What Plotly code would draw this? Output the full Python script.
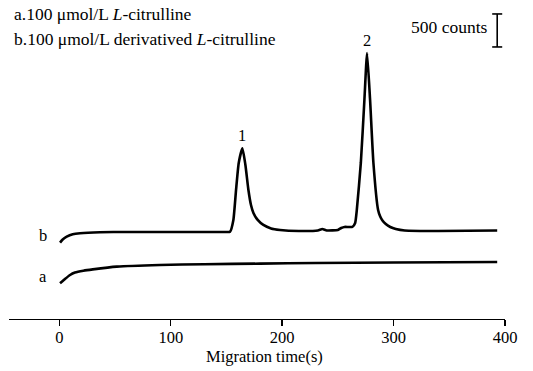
import plotly.graph_objects as go

# ---- data ----
time_a = [0.6, 3, 5, 9.6, 14, 21.5, 30, 51.5, 90, 130, 180, 230, 300, 393]
counts_a = [-323, -288, -258, -197, -160, -132, -112, -71, -45, -34, -25, -15, -8, 0]

time_b = [0.6, 3, 6.6, 12, 18.6, 36.5, 60, 100, 150, 153.2, 156.2, 158.6, 161, 164.3,
          167, 169.7, 172, 174.2, 178, 183.1, 190, 198.1, 215, 232, 236, 240, 250,
          253, 256, 263, 265.5, 267, 270.6, 273.8, 276.2, 278.9, 281.9, 286.1, 288,
          290, 293, 297, 302, 310, 340, 393]
counts_b = [293, 341, 384, 420, 435, 450, 455, 455, 455, 459, 637, 1091, 1500, 1723,
            1470, 1091, 864, 743, 637, 561, 508, 485, 470, 478, 500, 478, 485,
            515, 531, 531, 591, 788, 1500, 2455, 3167, 2455, 1500, 788, 690,
            630, 575, 530, 500, 478, 470, 478]

x_ticks = [0, 100, 200, 300, 400]
peak_labels = ["1", "2"]
peak_times = [164.3, 276.2]
peak_counts = [1723, 3167]
trace_labels = ["a", "b"]
legend_lines = ["a.100 μmol/L <i>L</i>-citrulline",
                "b.100 μmol/L derivatived <i>L</i>-citrulline"]
scale_counts = 500
scale_label = "500 counts"
x_title = "Migration time(s)"

# ---- layout geometry ----
W, H = 533, 371
ML, MR, MT, MB = 9, 28, 10, 52
FONT = "Liberation Serif, Times New Roman, serif"

fig = go.Figure()
line_style = dict(color="black", width=2.6, shape="spline", smoothing=0.5)
fig.add_trace(go.Scatter(x=time_a, y=counts_a, mode="lines", line=line_style,
                         showlegend=False, hoverinfo="skip"))
fig.add_trace(go.Scatter(x=time_b, y=counts_b, mode="lines", line=line_style,
                         showlegend=False, hoverinfo="skip"))

def px_to_paper(px, py):
    return (px - ML) / (W - ML - MR), (H - MB - py) / (H - MT - MB)

def tfont(size):
    return dict(size=size, family=FONT, color="black")

ann = []
for i, txt in enumerate(legend_lines):
    xp, yp = px_to_paper(12, 14 + 25 * i)
    ann.append(dict(x=xp, y=yp, xref="paper", yref="paper", text=txt, showarrow=False,
                    xanchor="left", yanchor="middle", font=tfont(17.5)))
for lab, t, c in zip(peak_labels, peak_times, peak_counts):
    ann.append(dict(x=t, y=c, xref="x", yref="y", text=lab, showarrow=False,
                    yanchor="bottom", yshift=1, font=tfont(16.5)))
for lab, c in zip(trace_labels, [counts_a[0], counts_b[0]]):
    ann.append(dict(x=0, y=c, xref="x", yref="y", text=lab, showarrow=False,
                    xanchor="right", yanchor="middle", xshift=-10, yshift=7,
                    font=tfont(16.5)))
xp, yp = px_to_paper(264, 356)
ann.append(dict(x=xp, y=yp, xref="paper", yref="paper", text=x_title, showarrow=False,
                xanchor="center", yanchor="middle", font=tfont(16.5)))

# scale bar
bar_t = 393
bar_bottom = 3258
bar_top = bar_bottom + scale_counts
shapes = [
    dict(type="line", xref="x", yref="y", x0=bar_t, x1=bar_t, y0=bar_bottom, y1=bar_top,
         line=dict(color="black", width=1.6)),
    dict(type="line", xref="x", yref="y", x0=bar_t - 4.5, x1=bar_t + 4.5, y0=bar_bottom, y1=bar_bottom,
         line=dict(color="black", width=1.6)),
    dict(type="line", xref="x", yref="y", x0=bar_t - 4.5, x1=bar_t + 4.5, y0=bar_top, y1=bar_top,
         line=dict(color="black", width=1.6)),
]
ann.append(dict(x=bar_t, y=(bar_top + bar_bottom) / 2, xref="x", yref="y", text=scale_label,
                showarrow=False, xanchor="right", yanchor="middle", xshift=-7, yshift=3,
                font=tfont(17.5)))

fig.update_layout(
    width=W, height=H,
    margin=dict(l=ML, r=MR, t=MT, b=MB, autoexpand=False),
    plot_bgcolor="white", paper_bgcolor="white",
    annotations=ann, shapes=shapes,
    xaxis=dict(range=[-45.2, 400], showline=True, linecolor="black", linewidth=1.4,
               ticks="outside", ticklen=6, tickwidth=1.4, tickcolor="black",
               tickvals=x_ticks, ticktext=[str(v) for v in x_ticks],
               showgrid=False, zeroline=False, automargin=False,
               ticklabelstandoff=-3,
               tickfont=tfont(16.5)),
    yaxis=dict(range=[-864, 3818], visible=False, showgrid=False, zeroline=False,
               automargin=False),
)

fig.write_html("out.html", config={"displayModeBar": False, "staticPlot": True},
               post_script="document.body.style.margin='0';")
